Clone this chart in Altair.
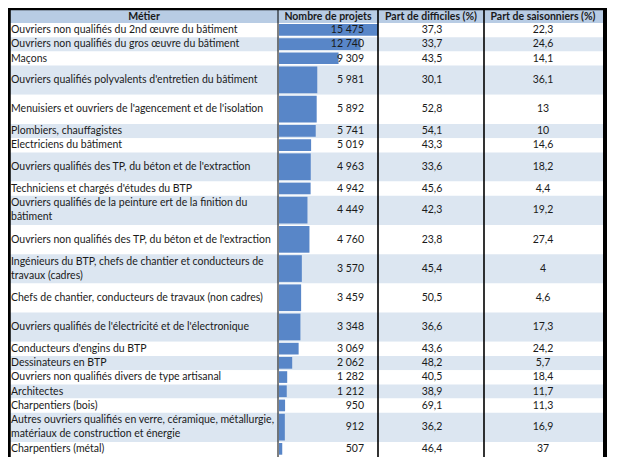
import altair as alt
import pandas as pd

# ---- data ----
metiers = [
    "Ouvriers non qualifiés du 2nd œuvre du bâtiment",
    "Ouvriers non qualifiés du gros œuvre du bâtiment",
    "Maçons",
    "Ouvriers qualifiés polyvalents d'entretien du bâtiment",
    "Menuisiers et ouvriers de l'agencement et de l'isolation",
    "Plombiers, chauffagistes",
    "Electriciens du bâtiment",
    "Ouvriers qualifiés des TP, du béton et de l'extraction",
    "Techniciens et chargés d'études du BTP",
    "Ouvriers qualifiés de la peinture ert de la finition du\nbâtiment",
    "Ouvriers non qualifiés des TP, du béton et de l'extraction",
    "Ingénieurs du BTP, chefs de chantier et conducteurs de\ntravaux (cadres)",
    "Chefs de chantier, conducteurs de travaux (non cadres)",
    "Ouvriers qualifiés de l'électricité et de l'électronique",
    "Conducteurs d'engins du BTP",
    "Dessinateurs en BTP",
    "Ouvriers non qualifiés divers de type artisanal",
    "Architectes",
    "Charpentiers (bois)",
    "Autres ouvriers qualifiés en verre, céramique, métallurgie,\nmatériaux de construction et énergie",
    "Charpentiers (métal)",
]
projets = [15475, 12740, 9309, 5981, 5892, 5741, 5019, 4963, 4942, 4449, 4760,
           3570, 3459, 3348, 3069, 2062, 1282, 1212, 950, 912, 507]
difficiles = [37.3, 33.7, 43.5, 30.1, 52.8, 54.1, 43.3, 33.6, 45.6, 42.3, 23.8,
              45.4, 50.5, 36.6, 43.6, 48.2, 40.5, 38.9, 69.1, 36.2, 46.4]
saisonniers = [22.3, 24.6, 14.1, 36.1, 13, 10, 14.6, 18.2, 4.4, 19.2, 27.4,
               4, 4.6, 17.3, 24.2, 5.7, 18.4, 11.7, 11.3, 16.9, 37]
headers = ["Métier", "Nombre de projets", "Part de difficiles (%)", "Part de saisonniers (%)"]

# ---- layout ----
row_slots = [1, 1, 1, 2, 2, 1, 1, 2, 1, 2, 2, 2, 2, 2, 1, 1, 1, 1, 1, 2, 1]
SINGLE, DOUBLE = 14.2, 29.2
LH = 14
W, H = 604, 449
HEAD_TOP, HEAD_BOT = 2, 15

def fr_int(v):
    return f"{v:,}".replace(",", "\u00a0")

def fr_dec(v):
    return ("%g" % v).replace(".", ",")

rows = []
y = HEAD_BOT
for i, (m, p, d, s, k) in enumerate(zip(metiers, projets, difficiles, saisonniers, row_slots)):
    h = SINGLE if k == 1 else DOUBLE
    nl = m.count("\n") + 1
    rows.append(dict(metier=m, projets=p, p_txt=fr_int(p), d_txt=fr_dec(d), s_txt=fr_dec(s),
                     y0=y, y1=y + h, yc=y + h / 2, ym=y + h / 2 - (nl - 1) * LH / 2,
                     yb0=y + 1, yb1=y + h - 1.5,
                     bg="#ffffff" if i % 2 == 0 else "#dce6f1", zero=0))
    y += h
df = pd.DataFrame(rows)
hdf = pd.DataFrame([dict(y0=HEAD_TOP, y1=HEAD_BOT, yc=(HEAD_TOP + HEAD_BOT) / 2)])

ys = alt.Scale(domain=[0, H], range=[0, H])
YQ = lambda f: alt.Y(f, type="quantitative", scale=ys, axis=None)
FONT = "Lato"
FS = 10.5
TXT = "#1a1a1a"

base = alt.Chart(df)

bg = base.mark_rect().encode(
    x=alt.value(2), x2=alt.value(596), y=YQ("y0"), y2="y1",
    color=alt.Color("bg:N", scale=None))

head_bg = alt.Chart(hdf).mark_rect(color="#b8cce4").encode(
    x=alt.value(2), x2=alt.value(596), y=YQ("y0"), y2="y1")

bars = base.mark_rect(color="#5886c8").encode(
    x=alt.X("projets:Q", scale=alt.Scale(domain=[0, max(projets)], range=[271, 370]), axis=None),
    x2="zero:Q", y=YQ("yb0"), y2="yb1")

t_met = base.mark_text(align="left", baseline="middle", font=FONT, fontSize=FS,
                       color=TXT, lineBreak="\n", lineHeight=LH).encode(
    x=alt.value(3), y=YQ("ym"), text="metier:N")
t_p = base.mark_text(align="right", baseline="middle", font=FONT, fontSize=FS, color=TXT).encode(
    x=alt.value(356), y=YQ("yc"), text="p_txt:N")
t_d = base.mark_text(align="center", baseline="middle", font=FONT, fontSize=FS, color=TXT).encode(
    x=alt.value(424), y=YQ("yc"), text="d_txt:N")
t_s = base.mark_text(align="center", baseline="middle", font=FONT, fontSize=FS, color=TXT).encode(
    x=alt.value(535), y=YQ("yc"), text="s_txt:N")

hx = [136, 320, 423, 535]
head_txt = [
    alt.Chart(hdf).mark_text(align="center", baseline="middle", font=FONT, fontSize=10.5,
                             fontWeight="bold", color=TXT, text=t).encode(
        x=alt.value(x), y=YQ("yc"))
    for t, x in zip(headers, hx)
]

def vrule(x, w, col="#000000"):
    return alt.Chart(hdf).mark_rule(color=col, strokeWidth=w).encode(
        x=alt.value(x), y=alt.value(0), y2=alt.value(H))

rules = [vrule(270, 1), vrule(370, 1.6), vrule(476, 1.6), vrule(1, 3.5), vrule(597, 4)]
top = alt.Chart(hdf).mark_rule(color="#000000", strokeWidth=2.5).encode(
    x=alt.value(0), x2=alt.value(599), y=alt.value(1))

chart = alt.layer(bg, head_bg, bars, t_met, t_p, t_d, t_s, *head_txt, *rules, top).resolve_scale(
    x="independent").properties(
    width=W, height=H, padding=0, autosize=alt.AutoSizeParams(type="none")
).configure_view(stroke=None)

chart.save("out.html", embed_options={"renderer": "svg", "actions": False})
